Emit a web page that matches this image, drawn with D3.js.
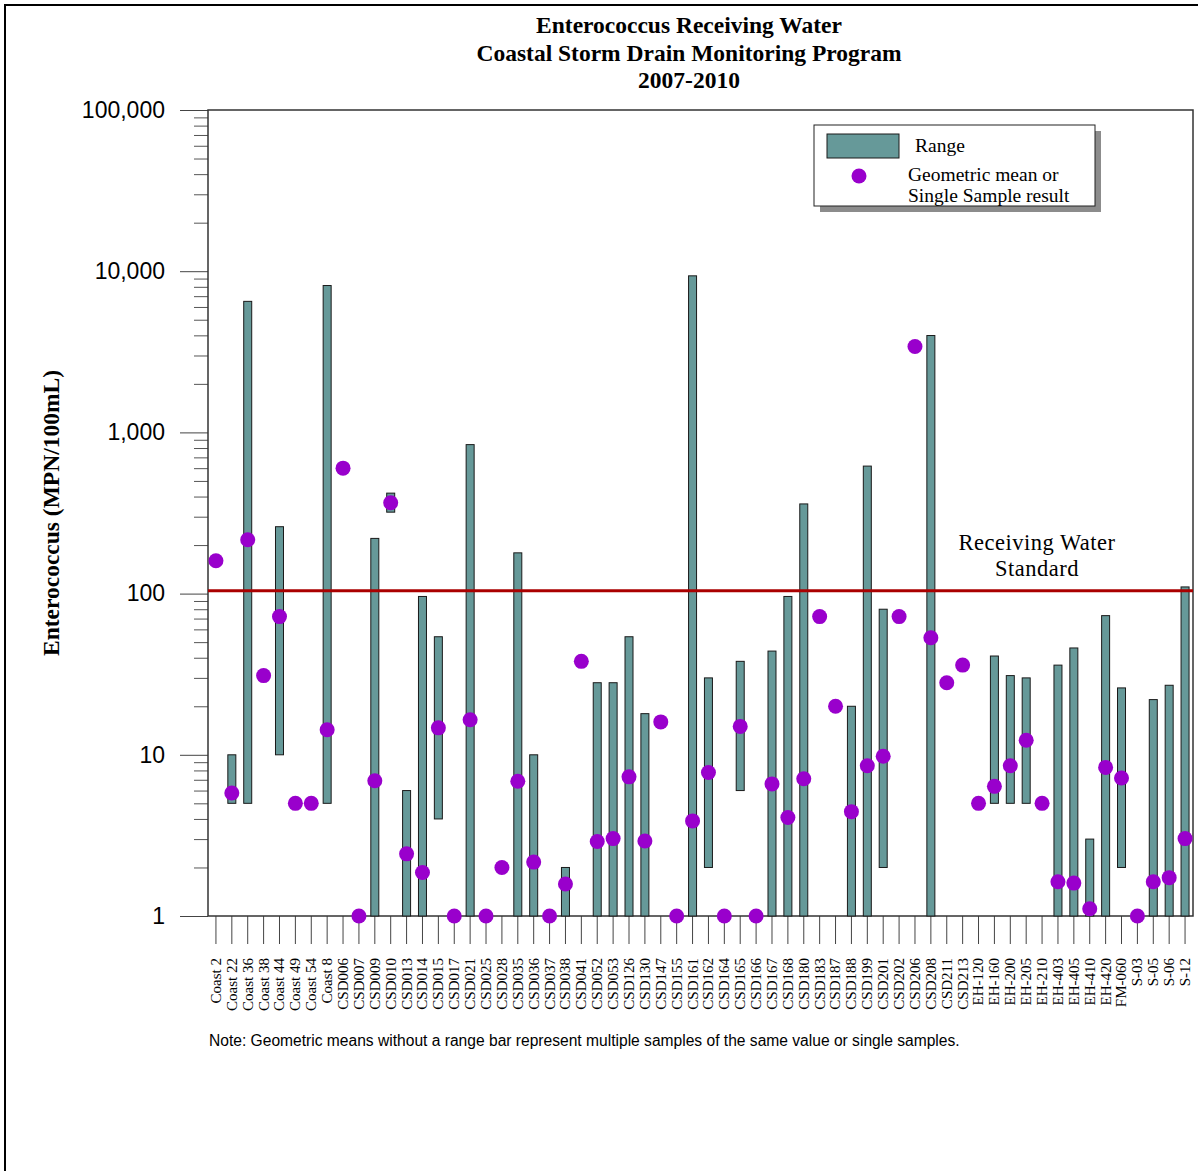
<!DOCTYPE html>
<html>
<head>
<meta charset="utf-8">
<script src="https://cdn.jsdelivr.net/npm/d3@7"></script>
<style>
  html, body { margin: 0; padding: 0; background: #fff; }
  svg { display: block; }
</style>
</head>
<body>
<svg id="chart" width="1198" height="1171"></svg>
<script>
const categories = ["Coast 2","Coast 22","Coast 36","Coast 38","Coast 44","Coast 49","Coast 54","Coast 8",
  "CSD006","CSD007","CSD009","CSD010","CSD013","CSD014","CSD015","CSD017","CSD021","CSD025","CSD028",
  "CSD035","CSD036","CSD037","CSD038","CSD041","CSD052","CSD053","CSD126","CSD130","CSD147","CSD155",
  "CSD161","CSD162","CSD164","CSD165","CSD166","CSD167","CSD168","CSD180","CSD183","CSD187","CSD188",
  "CSD199","CSD201","CSD202","CSD206","CSD208","CSD211","CSD213","EH-120","EH-160","EH-200","EH-205",
  "EH-210","EH-403","EH-405","EH-410","EH-420","FM-060","S-03","S-05","S-06","S-12"];

// Range minimum and maximum (null = no range bar)
const rangeMin = [null,5,5,null,10,null,null,5,
  null,null,1,320,1,1,4,null,1,null,null,
  1,1,null,1,null,1,1,1,1,null,null,
  1,2,null,6,null,1,1,1,null,null,1,
  1,2,null,null,1,null,null,null,5,5,5,
  null,1,1,1,1,2,null,1,1,1];
const rangeMax = [null,10,6500,null,260,null,null,8150,
  null,null,220,420,6,96,54,null,840,null,null,
  179,10,null,2,null,28,28,54,18,null,null,
  9360,30,null,38,null,44,96,360,null,null,20,
  618,80,null,null,3990,null,null,null,41,31,30,
  null,36,46,3,73,26,null,22,27,110];
// Geometric mean or single sample result
const geoMean = [160,5.8,216,31,72,5,5,14.3,
  600,1,6.9,366,2.43,1.86,14.7,1,16.5,1,2,
  6.85,2.16,1,1.58,38,2.9,3.02,7.3,2.92,16,1,
  3.89,7.77,1,15,1,6.6,4.08,7.1,72,20,4.44,
  8.55,9.8,72,3410,53.2,28,36,5,6.37,8.55,12.3,
  5,1.63,1.6,1.11,8.35,7.18,1,1.63,1.73,3.02];

const majorTicks = [1,10,100,1000,10000,100000];
const standardValue = 104;
const titleLines = ["Enterococcus Receiving Water","Coastal Storm Drain Monitoring Program","2007-2010"];
const yTitle = "Enterococcus (MPN/100mL)";
const noteText = "Note: Geometric means without a range bar represent multiple samples of the same value or single samples.";
const legendLabels = ["Range", "Geometric mean or", "Single Sample result"];
const standardLabel = ["Receiving Water", "Standard"];

const svg = d3.select("#chart");
const L = 208, R = 1193, T = 110, B = 916;
const serif = "'Liberation Serif','Times New Roman',Times,serif";
const sans = "'Liberation Sans',Arial,Helvetica,sans-serif";
const barFill = "#669999", dotFill = "#9900cc";

const x = d3.scaleBand().domain(categories).range([L, R]);
const y = d3.scaleLog().domain([1, 100000]).range([B, T]);

// outer frame
svg.append("rect").attr("x", 5).attr("y", 5).attr("width", 1300).attr("height", 1300)
  .attr("fill", "none").attr("stroke", "#000").attr("stroke-width", 2);

// titles
svg.append("g").selectAll("text").data(titleLines).join("text")
  .attr("x", 689).attr("y", (d, i) => 33 + i * 27.5)
  .attr("text-anchor", "middle")
  .attr("font-family", serif).attr("font-weight", "bold").attr("font-size", 23.5)
  .text(d => d);

// minor ticks
const minorTicks = [];
for (let e = 0; e < 5; e++) for (let m = 2; m <= 9; m++) minorTicks.push(m * Math.pow(10, e));
const yMinor = svg.append("g").attr("transform", `translate(${L},0)`)
  .call(d3.axisLeft(y).tickValues(minorTicks).tickSize(14).tickFormat(""));
yMinor.select(".domain").remove();
yMinor.selectAll("line").attr("stroke", "#555");

const yMajor = svg.append("g").attr("transform", `translate(${L},0)`)
  .call(d3.axisLeft(y).tickValues(majorTicks).tickSize(28).tickPadding(15).tickFormat(d3.format(",")));
yMajor.select(".domain").remove();
yMajor.selectAll("line").attr("stroke", "#444");
yMajor.selectAll("text").attr("font-family", sans).attr("font-size", 23).attr("fill", "#000");

// x axis ticks + labels
const xAxis = svg.append("g").attr("transform", `translate(0,${B})`)
  .call(d3.axisBottom(x).tickSize(28).tickSizeOuter(0));
xAxis.select(".domain").remove();
xAxis.selectAll("line").attr("stroke", "#444");
xAxis.selectAll("text")
  .attr("font-family", serif).attr("font-size", 15).attr("fill", "#000")
  .attr("text-anchor", "end")
  .attr("transform", "rotate(-90)")
  .attr("x", -42).attr("y", 0).attr("dy", "0.33em");

// plot box
svg.append("rect").attr("x", L).attr("y", T).attr("width", R - L).attr("height", B - T)
  .attr("fill", "none").attr("stroke", "#333").attr("stroke-width", 1.5);

// y title
svg.append("text")
  .attr("transform", `translate(59,${(T + B) / 2}) rotate(-90)`)
  .attr("text-anchor", "middle")
  .attr("font-family", serif).attr("font-weight", "bold").attr("font-size", 23.5)
  .text(yTitle);

// data table
const rows = categories.map((c, i) => ({ c, lo: rangeMin[i], hi: rangeMax[i], gm: geoMean[i] }));
const bw = 8;

// range bars
svg.append("g").selectAll("rect").data(rows.filter(d => d.lo != null)).join("rect")
  .attr("x", d => x(d.c) + x.bandwidth() / 2 - bw / 2)
  .attr("width", bw)
  .attr("y", d => y(d.hi))
  .attr("height", d => y(d.lo) - y(d.hi))
  .attr("fill", barFill).attr("stroke", "#1a1a1a").attr("stroke-width", 1);

// standard line
svg.append("line").attr("x1", L).attr("x2", R).attr("y1", y(standardValue)).attr("y2", y(standardValue))
  .attr("stroke", "#aa0000").attr("stroke-width", 3);

svg.append("g").selectAll("text").data(standardLabel).join("text")
  .attr("x", 1037).attr("y", (d, i) => 550 + i * 26)
  .attr("text-anchor", "middle")
  .attr("font-family", serif).attr("font-size", 22.5).attr("letter-spacing", 0.5)
  .text(d => d);

// dots
svg.append("g").selectAll("circle").data(rows).join("circle")
  .attr("cx", d => x(d.c) + x.bandwidth() / 2)
  .attr("cy", d => y(d.gm))
  .attr("r", 7.5)
  .attr("fill", dotFill);

// legend
const lg = svg.append("g");
lg.append("rect").attr("x", 820).attr("y", 131).attr("width", 281).attr("height", 81).attr("fill", "#8c8c8c");
lg.append("rect").attr("x", 814).attr("y", 125).attr("width", 281).attr("height", 81)
  .attr("fill", "#fff").attr("stroke", "#222").attr("stroke-width", 1);
lg.append("rect").attr("x", 827).attr("y", 134).attr("width", 72).attr("height", 24)
  .attr("fill", barFill).attr("stroke", "#1a1a1a");
lg.append("circle").attr("cx", 859).attr("cy", 176).attr("r", 7.5).attr("fill", dotFill);
lg.selectAll("text.lt").data(legendLabels).join("text").attr("class", "lt")
  .attr("x", (d, i) => i === 0 ? 915 : 908)
  .attr("y", (d, i) => [152, 181, 202][i])
  .attr("font-family", serif).attr("font-size", 19.5)
  .text(d => d);

// note
svg.append("text").attr("x", 209).attr("y", 1046)
  .attr("font-family", sans).attr("font-size", 15.6)
  .text(noteText);
</script>
</body>
</html>
